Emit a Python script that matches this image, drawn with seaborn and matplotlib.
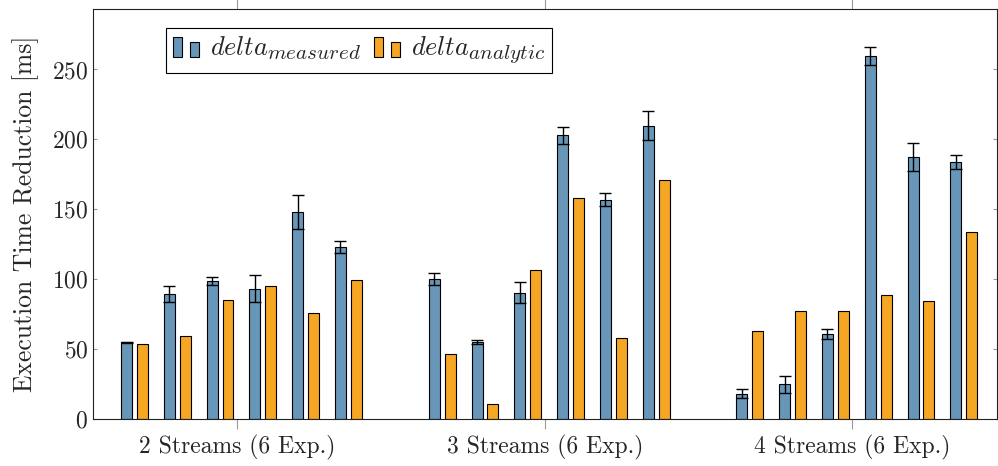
import numpy as np
import pandas as pd
import matplotlib
import matplotlib.pyplot as plt
import seaborn as sns
from matplotlib.legend_handler import HandlerBase
from matplotlib.patches import Rectangle

# data
groups = ['2 Streams (6 Exp.)', '3 Streams (6 Exp.)', '4 Streams (6 Exp.)']
measured = [55.0, 89.5, 98.8, 93.3, 148.3, 122.9,
            100.5, 55.5, 90.5, 202.9, 156.9, 209.8,
            18.3, 25.0, 60.9, 259.8, 187.4, 184.0]
measured_err = [0.5, 5.5, 3.0, 9.5, 12.0, 4.2,
                4.3, 1.4, 7.6, 6.2, 4.8, 10.4,
                3.1, 6.2, 3.6, 6.4, 9.7, 4.8]
analytic = [53.6, 59.8, 85.5, 95.2, 76.2, 99.3,
            46.9, 10.7, 106.9, 157.9, 58.1, 171.2,
            63.1, 77.6, 77.4, 89.0, 84.8, 133.6]
series = ['measured', 'analytic']
legend_labels = [r'$delta_{measured}$', r'$delta_{analytic}$']
colors = ['#6796b8', '#f5a623']
yticks = [0, 50, 100, 150, 200, 250]

# layout of the bars inside a group (in group units)
n_exp = 6
pair_step = 0.139
bar_gap = 0.0517
bar_width = 0.0357
group_shift = 0.0145

rows = []
for i in range(len(measured)):
    g, k = divmod(i, n_exp)
    center = g + group_shift + (k - (n_exp - 1) / 2) * pair_step
    rows.append({'pos': round(center - bar_gap / 2, 4), 'value': measured[i], 'series': 'measured'})
    rows.append({'pos': round(center + bar_gap / 2, 4), 'value': analytic[i], 'series': 'analytic'})
df = pd.DataFrame(rows)


class TwoBars(HandlerBase):
    """pgfplots-like ybar legend image: two small bars"""
    def create_artists(self, legend, orig_handle, xdescent, ydescent, width, height, fontsize, trans):
        w = width * 0.34
        fc = orig_handle.get_facecolor()
        r1 = Rectangle((-xdescent, -ydescent - 0.15 * height), w, height * 1.25,
                       facecolor=fc, edgecolor='black', linewidth=0.8, transform=trans)
        r2 = Rectangle((-xdescent + width * 0.66, -ydescent - 0.15 * height), w, height * 0.95,
                       facecolor=fc, edgecolor='black', linewidth=0.8, transform=trans)
        return [r1, r2]


sns.set_style('ticks')
plt.rcParams['font.family'] = ['cmr10', 'DejaVu Serif']
plt.rcParams['mathtext.fontset'] = 'cm'
plt.rcParams['axes.formatter.use_mathtext'] = True

# TeX-like subscripts are a bit bigger than mathtext's default
try:
    matplotlib._mathtext.SHRINK_FACTOR = 0.8
except AttributeError:
    pass

fig, ax = plt.subplots(figsize=(9.98, 4.66), dpi=100)
fig.subplots_adjust(left=93 / 998, right=997 / 998, top=1 - 9.3 / 466, bottom=1 - 419.3 / 466)

sns.barplot(data=df, x='pos', y='value', hue='series', hue_order=series, palette=colors,
            native_scale=True, dodge=False, width=bar_width / bar_gap, saturation=1,
            errorbar=None, edgecolor='black', linewidth=0.8, legend=False, ax=ax)

# error bars for the measured series
mpos = df.loc[df['series'] == 'measured', 'pos'].values
ax.errorbar(mpos, measured, yerr=measured_err, fmt='none', ecolor='black',
            elinewidth=1, capsize=4, capthick=1, zorder=3)

ax.set_xlim(-0.468, 2.47)
ax.set_ylim(0, 293)
ax.set_xticks(range(len(groups)))
ax.set_xticklabels(groups)
ax.set_yticks(yticks)
ax.set_xlabel('')
ax.set_ylabel('Execution Time Reduction [ms]', fontsize=18.5, labelpad=9)
ax.tick_params(axis='x', direction='out', length=7, color='#999999', top=True,
               labeltop=False, labelsize=17, pad=4)
ax.tick_params(axis='y', direction='in', length=3, color='#999999', right=True, labelsize=17)
for s in ax.spines.values():
    s.set_color('#222222')
    s.set_linewidth(0.8)

handles = [Rectangle((0, 0), 1, 1, facecolor=c, edgecolor='black') for c in colors]
leg = ax.legend(handles, legend_labels, handler_map={Rectangle: TwoBars()},
                loc='upper left', bbox_to_anchor=(0.081, 0.954), ncol=2, fontsize=19,
                frameon=True, fancybox=False, framealpha=1, edgecolor='black',
                handlelength=1.0, handleheight=0.55, handletextpad=0.4, columnspacing=0.5,
                borderpad=0.25, borderaxespad=0)
leg.get_frame().set_linewidth(0.8)

plt.savefig('out.png', dpi=100)
plt.close()
